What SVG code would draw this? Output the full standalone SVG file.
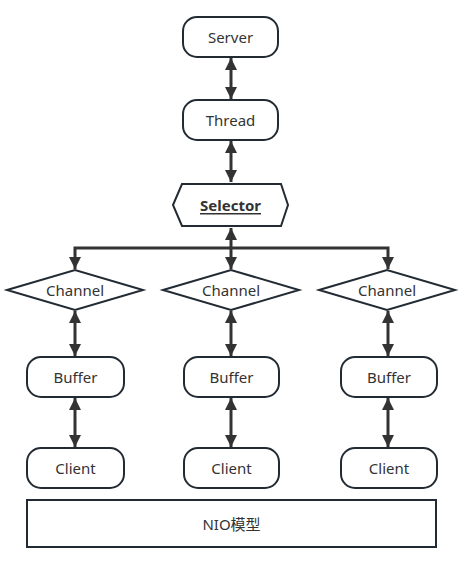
<svg xmlns="http://www.w3.org/2000/svg" width="465" height="561" viewBox="0 0 465 561">
<defs>
<style>
.n{fill:#fff;stroke:#222a33;stroke-width:2}
.t{font-family:"Noto Sans","Noto Sans CJK SC",sans-serif;font-size:15px;fill:#333;text-anchor:middle;dominant-baseline:central}
.c{fill:none;stroke:#333;stroke-width:3}
</style>
<marker id="a" viewBox="0 0 10 10" refX="10" refY="5" markerWidth="4" markerHeight="4" orient="auto-start-reverse" markerUnits="strokeWidth">
<path d="M0,0 L10,5 L0,10 z" fill="#333"/>
</marker>
</defs>
<rect width="465" height="561" fill="#fff"/>
<g id="connectors">
<line class="c" x1="231" y1="58" x2="231" y2="99" marker-start="url(#a)" marker-end="url(#a)"/>
<line class="c" x1="231" y1="141" x2="231" y2="182" marker-start="url(#a)" marker-end="url(#a)"/>
<line class="c" x1="231" y1="228" x2="231" y2="269" marker-start="url(#a)" marker-end="url(#a)"/>
<polyline class="c" points="75,269 75,248 388,248 388,269" marker-start="url(#a)" marker-end="url(#a)"/>
<line class="c" x1="75" y1="311" x2="75" y2="356" marker-start="url(#a)" marker-end="url(#a)"/>
<line class="c" x1="231" y1="311" x2="231" y2="356" marker-start="url(#a)" marker-end="url(#a)"/>
<line class="c" x1="388" y1="311" x2="388" y2="356" marker-start="url(#a)" marker-end="url(#a)"/>
<line class="c" x1="75" y1="398" x2="75" y2="447" marker-start="url(#a)" marker-end="url(#a)"/>
<line class="c" x1="231" y1="398" x2="231" y2="447" marker-start="url(#a)" marker-end="url(#a)"/>
<line class="c" x1="388" y1="398" x2="388" y2="447" marker-start="url(#a)" marker-end="url(#a)"/>
</g>
<g id="server"><rect class="n" x="183" y="17" width="95" height="40" rx="14"/><text class="t" x="230.5" y="37">Server</text></g>
<g id="thread"><rect class="n" x="183" y="100" width="95" height="40" rx="14"/><text class="t" x="230.5" y="120">Thread</text></g>
<g id="selector"><polygon class="n" points="173,205 182,184 281,184 288,205 281,226 182,226"/><text class="t" x="230.5" y="205" font-weight="bold" text-decoration="underline">Selector</text></g>
<g id="channel1"><polygon class="n" points="7,290 75,270 143,290 75,310"/><text class="t" x="75" y="290">Channel</text></g>
<g id="channel2"><polygon class="n" points="163,290 231,270 299,290 231,310"/><text class="t" x="231" y="290">Channel</text></g>
<g id="channel3"><polygon class="n" points="319,290 387,270 455,290 387,310"/><text class="t" x="387" y="290">Channel</text></g>
<g id="buffer1"><rect class="n" x="27" y="357" width="97" height="40" rx="14"/><text class="t" x="75.5" y="377">Buffer</text></g>
<g id="buffer2"><rect class="n" x="184" y="357" width="95" height="40" rx="14"/><text class="t" x="231.5" y="377">Buffer</text></g>
<g id="buffer3"><rect class="n" x="341" y="357" width="96" height="40" rx="14"/><text class="t" x="389" y="377">Buffer</text></g>
<g id="client1"><rect class="n" x="27" y="448" width="97" height="40" rx="14"/><text class="t" x="75.5" y="468">Client</text></g>
<g id="client2"><rect class="n" x="184" y="448" width="95" height="40" rx="14"/><text class="t" x="231.5" y="468">Client</text></g>
<g id="client3"><rect class="n" x="341" y="448" width="96" height="40" rx="14"/><text class="t" x="389" y="468">Client</text></g>
<g id="nio"><rect class="n" x="27" y="500" width="409" height="47"/><text class="t" x="231.5" y="523.5">NIO模型</text></g>
</svg>
